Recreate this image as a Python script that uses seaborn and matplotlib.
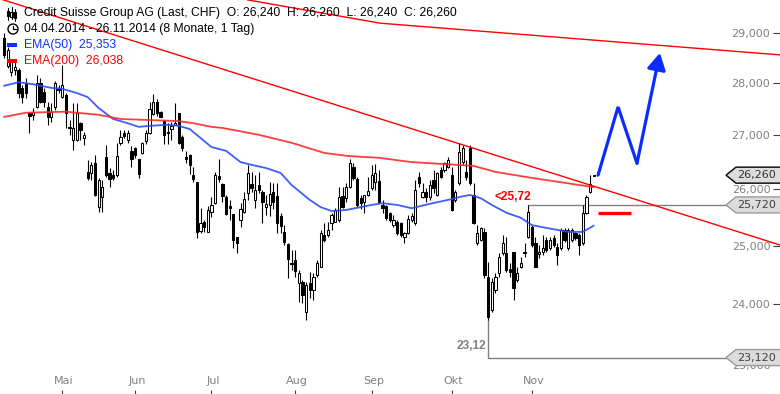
import numpy as np
import matplotlib
matplotlib.use("Agg")
import matplotlib.pyplot as plt
import matplotlib.transforms as mtransforms
from matplotlib.patches import Polygon, Rectangle, Circle
from matplotlib.lines import Line2D
from matplotlib.ticker import NullLocator
import seaborn as sns

# ── Data ───────────────────────────────────────────────────────
opens = [
    28.90, 28.34, 28.22, 28.26, 28.26, 27.91, 28.01, 27.43, 27.39, 27.54,
    28.01, 27.83, 27.54, 27.35, 27.54, 27.91, 27.73, 27.77, 27.16, 26.91,
    26.91, 27.23, 26.95, 26.32, 26.30, 26.48, 25.68, 25.86, 26.60, 26.30,
    26.26, 26.26, 26.86, 27.04, 26.91, 26.71, 26.76, 26.56, 26.67, 26.89,
    27.04, 27.41, 27.64, 27.44, 27.27, 27.06, 27.12, 27.20, 27.43, 26.97,
    26.60, 26.63, 26.26, 26.13, 25.26, 25.42, 25.24, 25.59, 25.75, 26.24,
    26.10, 25.86, 25.70, 25.56, 25.15, 25.45, 25.59, 25.93, 26.10, 25.81,
    26.08, 25.95, 25.68, 25.72, 25.95, 25.88, 25.52, 25.24, 25.03, 24.70,
    24.75, 24.35, 24.37, 23.87, 24.35, 24.24, 24.49, 24.63, 25.19, 25.19,
    25.40, 25.42, 25.45, 25.88, 25.84, 26.04, 26.41, 26.19, 25.84, 25.77,
    25.90, 26.03, 26.13, 26.15, 25.72, 25.70, 25.57, 25.36, 25.42, 25.40,
    25.15, 25.22, 25.45, 25.40, 26.23, 25.86, 25.95, 25.86, 26.17, 25.90,
    26.35, 26.35, 26.41, 26.26, 25.81, 26.12, 26.50, 26.32, 26.76, 25.90,
    25.05, 25.10, 25.24, 24.46, 23.90, 24.24, 24.53, 24.87, 24.87, 24.59,
    24.89, 24.41, 24.63, 24.89, 25.15, 25.33, 25.05, 24.86, 24.89, 25.10,
    24.96, 25.13, 24.98, 24.96, 25.27, 24.96, 25.10, 25.22, 25.19, 25.05,
    25.57, 25.95, 26.24,
]
highs = [
    29.00, 28.72, 28.46, 28.42, 28.30, 27.97, 28.10, 27.44, 27.52, 28.16,
    28.10, 27.91, 27.64, 27.62, 28.05, 27.97, 28.36, 27.81, 27.29, 27.62,
    27.62, 27.25, 27.06, 26.54, 26.50, 26.63, 26.21, 26.17, 26.82, 26.39,
    26.35, 26.86, 27.10, 27.10, 27.10, 26.80, 26.78, 26.56, 26.87, 27.10,
    27.64, 27.79, 27.69, 27.46, 27.29, 27.23, 27.25, 27.62, 27.43, 27.01,
    26.71, 26.65, 26.41, 26.13, 25.66, 25.45, 25.70, 25.86, 26.32, 26.56,
    26.12, 25.90, 25.81, 25.56, 25.15, 25.75, 25.95, 26.45, 26.32, 26.26,
    26.32, 25.99, 25.90, 26.13, 26.12, 26.12, 25.57, 25.36, 25.05, 24.92,
    24.92, 24.58, 24.41, 24.37, 24.54, 24.53, 24.75, 25.27, 25.40, 25.42,
    25.57, 25.66, 26.04, 26.04, 26.12, 26.56, 26.48, 26.23, 25.90, 25.90,
    26.23, 26.45, 26.46, 26.35, 25.81, 25.72, 25.59, 25.54, 25.45, 25.42,
    25.24, 25.54, 25.57, 26.17, 26.32, 26.12, 26.03, 26.17, 26.35, 26.32,
    26.41, 26.50, 26.60, 26.41, 25.99, 26.86, 26.82, 26.54, 26.82, 26.12,
    25.36, 25.33, 25.31, 24.71, 24.44, 24.53, 24.87, 25.19, 25.15, 24.70,
    24.89, 24.63, 24.80, 25.05, 25.72, 25.36, 25.15, 25.01, 25.19, 25.15,
    25.15, 25.19, 25.05, 25.31, 25.31, 25.31, 25.31, 25.24, 25.22, 25.72,
    25.90, 26.26, 26.26,
]
lows = [
    28.50, 28.30, 28.14, 28.16, 27.71, 27.62, 27.71, 27.04, 27.29, 27.52,
    27.62, 27.54, 27.20, 27.25, 27.48, 27.81, 27.71, 27.14, 27.01, 26.73,
    26.90, 26.91, 26.82, 26.17, 26.17, 25.88, 25.59, 25.59, 26.23, 26.04,
    26.17, 26.23, 26.82, 26.95, 26.86, 26.41, 26.58, 26.21, 26.65, 26.84,
    27.02, 27.39, 27.37, 27.35, 26.84, 26.84, 26.91, 27.19, 26.84, 26.71,
    26.48, 26.28, 26.13, 25.13, 25.22, 25.24, 25.23, 25.50, 25.74, 26.13,
    25.77, 25.54, 25.45, 24.96, 24.87, 25.33, 25.57, 25.81, 25.95, 25.66,
    25.93, 25.40, 25.54, 25.52, 25.65, 25.22, 25.22, 25.01, 24.44, 24.58,
    24.46, 24.03, 24.02, 23.73, 24.10, 24.07, 24.46, 24.63, 25.06, 25.15,
    25.27, 25.42, 25.42, 25.66, 25.77, 26.03, 26.17, 25.68, 25.65, 25.57,
    25.88, 25.99, 25.99, 25.75, 25.57, 25.45, 25.42, 25.33, 25.19, 25.15,
    25.05, 25.20, 25.42, 25.36, 26.04, 25.84, 25.77, 25.81, 25.93, 25.88,
    26.21, 26.32, 26.39, 25.61, 25.77, 26.08, 26.45, 26.17, 26.08, 25.38,
    25.01, 25.08, 24.44, 23.73, 23.87, 24.18, 24.46, 24.84, 24.54, 24.46,
    24.07, 24.37, 24.61, 24.80, 25.13, 24.98, 24.63, 24.78, 24.84, 24.89,
    24.92, 24.98, 24.66, 24.92, 25.06, 24.92, 25.06, 25.10, 24.84, 25.01,
    25.56, 25.93, 26.24,
]
closes = [
    28.56, 28.66, 28.42, 28.32, 27.81, 27.73, 27.81, 27.37, 27.44, 28.01,
    27.64, 27.64, 27.35, 27.44, 28.01, 27.87, 27.97, 27.43, 27.14, 27.14,
    27.43, 27.10, 27.01, 26.21, 26.45, 25.90, 26.17, 26.04, 26.26, 26.19,
    26.21, 26.62, 26.97, 26.99, 27.04, 26.56, 26.63, 26.28, 26.86, 27.04,
    27.50, 27.64, 27.43, 27.35, 27.01, 27.05, 27.18, 27.23, 26.86, 26.76,
    26.56, 26.45, 26.19, 25.24, 25.40, 25.33, 25.63, 25.72, 26.26, 26.19,
    25.88, 25.56, 25.66, 25.10, 25.05, 25.65, 25.83, 26.30, 26.03, 25.99,
    25.99, 25.77, 25.74, 25.92, 25.77, 25.40, 25.35, 25.06, 24.77, 24.68,
    24.56, 24.53, 24.15, 24.32, 24.24, 24.46, 24.70, 25.22, 25.10, 25.27,
    25.54, 25.63, 25.86, 25.68, 26.04, 26.48, 26.21, 25.72, 25.75, 25.90,
    25.97, 26.26, 26.30, 25.77, 25.66, 25.49, 25.45, 25.45, 25.22, 25.19,
    25.22, 25.47, 25.52, 25.99, 26.12, 25.95, 25.86, 26.08, 26.03, 26.30,
    26.23, 26.48, 26.54, 25.63, 25.95, 26.69, 26.76, 26.23, 26.12, 25.40,
    25.22, 25.31, 24.49, 23.78, 24.37, 24.46, 24.80, 25.05, 24.58, 24.54,
    24.27, 24.53, 24.70, 24.87, 25.59, 25.01, 24.63, 24.89, 24.96, 24.92,
    25.10, 25.01, 24.84, 25.27, 25.10, 25.27, 25.27, 25.13, 25.01, 25.57,
    25.86, 26.10, 26.26,
]

# moving averages, sampled along the bars
ema50_idx = [0, 4, 8, 13, 16, 20, 23, 26, 30, 34, 37, 40, 45, 48, 51, 54, 57, 61, 65, 68,
             72, 76, 79, 84, 87, 90, 94, 98, 101, 104, 108, 112, 117, 122, 125, 128, 131,
             134, 138, 142, 145, 149, 155, 159, 162]
ema50 = [27.95, 28.02, 27.98, 27.91, 27.89, 27.81, 27.73, 27.52, 27.31, 27.23, 27.16, 27.18,
         27.20, 27.18, 27.12, 26.95, 26.78, 26.71, 26.50, 26.45, 26.39, 26.30, 26.08, 25.81,
         25.68, 25.61, 25.63, 25.68, 25.72, 25.75, 25.72, 25.66, 25.74, 25.81, 25.86, 25.90,
         25.84, 25.72, 25.58, 25.49, 25.36, 25.31, 25.24, 25.24, 25.35]
ema200_idx = [0, 6, 17, 26, 32, 40, 48, 52, 57, 60, 70, 79, 88, 95, 103, 112, 122, 129, 135,
              145, 154, 162]
ema200 = [27.35, 27.43, 27.45, 27.39, 27.31, 27.29, 27.27, 27.23, 27.16, 27.14, 27.01, 26.86,
          26.67, 26.61, 26.58, 26.50, 26.46, 26.43, 26.32, 26.21, 26.12, 26.04]

# drawn trend lines and forecast
trend_down_x = [-1.1, 213.2]
trend_down_y = [29.70, 25.01]
trend_top_x = [66.8, 103.3, 213.2]
trend_top_y = [29.68, 29.20, 28.56]
forecast_x = [163.2, 168.7, 173.9, 180.2]
forecast_y = [26.26, 27.54, 26.48, 28.60]
target_x = [163.2, 172.3]
target_y = 25.575

month_idx = [16, 36, 57, 80, 101, 123, 145]
month_labels = ["Mai", "Jun", "Jul", "Aug", "Sep", "Okt", "Nov"]
price_ticks = [23, 24, 25, 26, 27, 28, 29]
price_labels = ["23,000", "24,000", "25,000", "26,000", "27,000", "28,000", "29,000"]

W, H = 780, 394
GRAY = "#808080"
BLUE = "#2b4cff"
RED = "#ff2a2a"

sns.set_style("white")
plt.rcParams["font.family"] = ["Liberation Sans", "DejaVu Sans"]

fig = plt.figure(figsize=(W / 100, H / 100), dpi=100)
ax = fig.add_axes([0, 0, 1, 1])
ax.set_yscale("log")

# ── Candles ────────────────────────────────────────────────────
o, h, l, c = map(np.asarray, (opens, highs, lows, closes))
idx = np.arange(len(c))
up = c >= o
lo_body = np.minimum(o, c)
hi_body = np.maximum(o, c)

ax.vlines(idx, l, h, color="black", lw=0.8, zorder=3)
ax.bar(idx[up], (hi_body - lo_body)[up], bottom=lo_body[up], width=0.62,
       color="white", edgecolor="black", lw=0.75, zorder=4)
ax.bar(idx[~up], (hi_body - lo_body)[~up], bottom=lo_body[~up], width=0.62,
       color="black", edgecolor="black", lw=0.75, zorder=4)

# ── EMAs ───────────────────────────────────────────────────────
sns.lineplot(x=ema50_idx, y=ema50, ax=ax, color=BLUE, lw=1.3, alpha=0.9, zorder=5)
sns.lineplot(x=ema200_idx, y=ema200, ax=ax, color=RED, lw=1.3, alpha=0.9, zorder=5)

# ── Trend lines, forecast ─────────────────────────────────────
ax.plot(trend_down_x, trend_down_y, color="#ff0000", lw=1.0, zorder=5)
ax.plot(trend_top_x, trend_top_y, color="#ff0000", lw=1.0, zorder=5)
ax.plot(forecast_x[:3], forecast_y[:3], color="#0a2cff", lw=2.3,
        solid_joinstyle="miter", zorder=6)
ax.annotate("", xy=(forecast_x[3], forecast_y[3]), xytext=(forecast_x[2], forecast_y[2]),
            arrowprops=dict(arrowstyle="-|>,head_length=0.5,head_width=0.28",
                            mutation_scale=20, color="#0a2cff", lw=2.3,
                            shrinkA=0, shrinkB=0), zorder=6)
ax.plot(target_x, [target_y, target_y], color="#ff0000", lw=2.4,
        solid_capstyle="butt", zorder=6)

# high / low markers
ax.plot([144, 214], [25.72, 25.72], color=GRAY, lw=1.0, zorder=2)
ax.plot([133, 133, 214], [23.73, 23.12, 23.12], color=GRAY, lw=1.0, zorder=2)
ax.annotate("<25,72", xy=(144.8, 25.72), xytext=(0, 1.5), textcoords="offset points",
            ha="right", va="bottom", color="#ff0000", fontsize=8.6, fontweight="bold",
            zorder=7)
ax.annotate("23,12", xy=(133, 23.12), xytext=(-1, 4), textcoords="offset points",
            ha="right", va="bottom", color=GRAY, fontsize=8.6, fontweight="bold", zorder=7)

# ── Axes ───────────────────────────────────────────────────────
ax.set_xlim(-4 / 3.64, 776 / 3.64)
ax.set_ylim(22.539, 29.676)
for s in ax.spines.values():
    s.set_visible(False)

ax.yaxis.tick_right()
ax.set_yticks(price_ticks)
ax.set_yticklabels(price_labels)
ax.yaxis.set_minor_locator(NullLocator())
ax.tick_params(axis="y", which="both", direction="in", length=5, width=0.8,
               color="#404040", labelcolor=GRAY, labelsize=8, pad=-7)
for lbl in ax.get_yticklabels():
    lbl.set_horizontalalignment("right")
    lbl.set_family("DejaVu Sans")

ax.set_xticks(month_idx)
ax.xaxis.set_minor_locator(NullLocator())
ax.tick_params(axis="x", direction="in", length=3, width=0.8, color="#404040",
               bottom=True, labelbottom=False)
xt = mtransforms.blended_transform_factory(ax.transData, ax.transAxes)
for m, lab in zip(month_idx, month_labels):
    ax.text(m + 0.5, 13 / H, lab, transform=xt, ha="center", va="center", fontsize=8,
            color=GRAY, family=["Liberation Sans Narrow", "DejaVu Sans"])

# ── Price tags on the right ───────────────────────────────────
ident = mtransforms.IdentityTransform()


def price_tag(price, label, edge, txt):
    y = ax.transData.transform((0, price))[1]
    pts = [(W + 2, y + 8), (736, y + 8), (726, y), (736, y - 8), (W + 2, y - 8)]
    fig.add_artist(Polygon(pts, closed=True, facecolor="#dcdcdc", edgecolor=edge,
                           lw=1.0, transform=ident, zorder=8))
    fig.text(757, y, label, transform=ident, ha="center", va="center", fontsize=8,
             color=txt, family="DejaVu Sans", zorder=9)


price_tag(26.26, "26,260", "#000000", "#333333")
price_tag(25.72, "25,720", "#9a9a9a", "#404040")
price_tag(23.12, "23,120", "#9a9a9a", "#404040")

# ── Header text / legend ──────────────────────────────────────
def top(yp):
    return H - yp


fig.text(24, top(13), "Credit Suisse Group AG (Last, CHF)  O: 26,240  H: 26,260  L: 26,240  C: 26,260",
         transform=ident, va="center", fontsize=8.7, color="black")
fig.text(24, top(29), "04.04.2014 - 26.11.2014 (8 Monate, 1 Tag)",
         transform=ident, va="center", fontsize=8.7, color="black")
fig.text(24, top(45), "EMA(50)  25,353", transform=ident, va="center",
         fontsize=8.7, color="#1030ff")
fig.text(24, top(61), "EMA(200)  26,038", transform=ident, va="center",
         fontsize=8.7, color="#ff0000")

# candle icon
for xi, (y0, y1, b0, b1) in zip([8, 11.5, 15], [(8, 20, 11, 16), (7, 19, 12, 17), (9, 21, 12, 18)]):
    fig.add_artist(Line2D([xi, xi], [top(y0), top(y1)], color="black", lw=0.8, transform=ident))
    fig.add_artist(Rectangle((xi - 1.2, top(b1)), 2.4, b1 - b0, facecolor="white",
                             edgecolor="black", lw=0.8, transform=ident))
# clock icon
fig.add_artist(Circle((13, top(29)), 5, fill=False, edgecolor="black", lw=1.0, transform=ident))
fig.add_artist(Line2D([13, 13, 16], [top(25.5), top(29), top(29)], color="black", lw=0.9,
                      transform=ident))
# legend marks
fig.add_artist(Rectangle((7, top(47)), 10, 4, facecolor="#1030ff", edgecolor="none",
                         transform=ident))
fig.add_artist(Rectangle((7, top(63)), 10, 4, facecolor="#ff0000", edgecolor="none",
                         transform=ident))

fig.savefig("out.png", dpi=100, facecolor="white")
